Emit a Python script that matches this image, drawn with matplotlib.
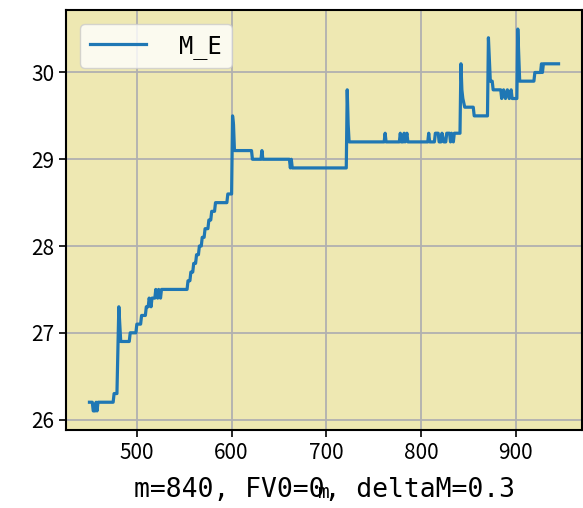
import matplotlib
matplotlib.use("Agg")
import matplotlib.pyplot as plt

plt.rcParams["font.family"] = ["Noto Sans CJK SC", "DejaVu Sans"]
plt.rcParams["axes.unicode_minus"] = False

# m values and M_E values (step points)
m_values = [
    450, 453, 454, 456, 457, 458, 459, 475, 476, 479, 481, 483, 492, 493, 499,
    500, 504, 505, 509, 510, 512, 513, 515, 516, 519, 520, 522, 523, 525, 526,
    553, 554, 556, 557, 559, 560, 562, 563, 565, 566, 568, 569, 571, 572, 575,
    576, 578, 579, 582, 583, 595, 596, 600, 601, 602, 603, 621, 622, 631, 632,
    633, 661, 662, 663, 664, 721, 722, 723, 724, 761, 762, 763, 777, 778, 779,
    781, 782, 783, 785, 786, 807, 808, 809, 814, 815, 818, 819, 821, 822, 824,
    826, 827, 830, 831, 832, 834, 835, 841, 842, 843, 844, 846, 855, 856, 870,
    871, 873, 875, 876, 884, 885, 887, 889, 891, 893, 895, 896, 901, 902, 904,
    919, 920, 926, 927, 928, 929, 945,
]
me_values = [
    26.2, 26.2, 26.1, 26.1, 26.2, 26.1, 26.2, 26.2, 26.3, 26.3, 27.3, 26.9, 26.9, 27.0, 27.0,
    27.1, 27.1, 27.2, 27.2, 27.3, 27.3, 27.4, 27.3, 27.4, 27.4, 27.5, 27.4, 27.5, 27.4, 27.5,
    27.5, 27.6, 27.6, 27.7, 27.7, 27.8, 27.8, 27.9, 27.9, 28.0, 28.0, 28.1, 28.1, 28.2, 28.2,
    28.3, 28.3, 28.4, 28.4, 28.5, 28.5, 28.6, 28.6, 29.5, 29.4, 29.1, 29.1, 29.0, 29.0, 29.1,
    29.0, 29.0, 28.9, 29.0, 28.9, 28.9, 29.8, 29.4, 29.2, 29.2, 29.3, 29.2, 29.2, 29.3, 29.2,
    29.2, 29.3, 29.2, 29.3, 29.2, 29.2, 29.3, 29.2, 29.2, 29.3, 29.3, 29.2, 29.2, 29.3, 29.2,
    29.2, 29.3, 29.3, 29.2, 29.3, 29.2, 29.3, 29.3, 30.1, 29.8, 29.7, 29.6, 29.6, 29.5, 29.5,
    30.4, 29.9, 29.9, 29.8, 29.8, 29.7, 29.8, 29.7, 29.8, 29.7, 29.8, 29.7, 29.7, 30.5, 29.9,
    29.9, 30.0, 30.0, 30.1, 30.0, 30.1, 30.1,
]
series_label = "M_E"
x_label = "m"
note_text = "m=840, FV0=0, deltaM=0.3"
x_ticks = [500, 600, 700, 800, 900]
y_ticks = [26, 27, 28, 29, 30]

mono = ["DejaVu Sans Mono"]

fig = plt.figure(figsize=(5.83, 5.08), dpi=100)
ax = fig.add_axes([66 / 583, 78 / 508, 516 / 583, 420 / 508])
ax.set_facecolor("#eee8b2")

ax.plot(m_values, me_values, color="#1f77b4", linewidth=2.3, label=series_label)

ax.set_xticks(x_ticks)
ax.set_yticks(y_ticks)
ax.tick_params(labelsize=15, length=5, width=1.2)
ax.grid(True, color="#b0b0b0", linewidth=1.3)
for spine in ax.spines.values():
    spine.set_linewidth(1.5)

ax.set_xlabel(x_label, fontsize=14, labelpad=14, family=mono)
ax.text(0.5, -0.16, note_text, transform=ax.transAxes, ha="center", va="baseline",
        fontsize=19, family=mono)

ax.legend(loc="upper left", handlelength=2.4, handletextpad=1.4,
          borderaxespad=0.6, prop={"family": mono, "size": 17})

fig.savefig("out.png", dpi=100)
